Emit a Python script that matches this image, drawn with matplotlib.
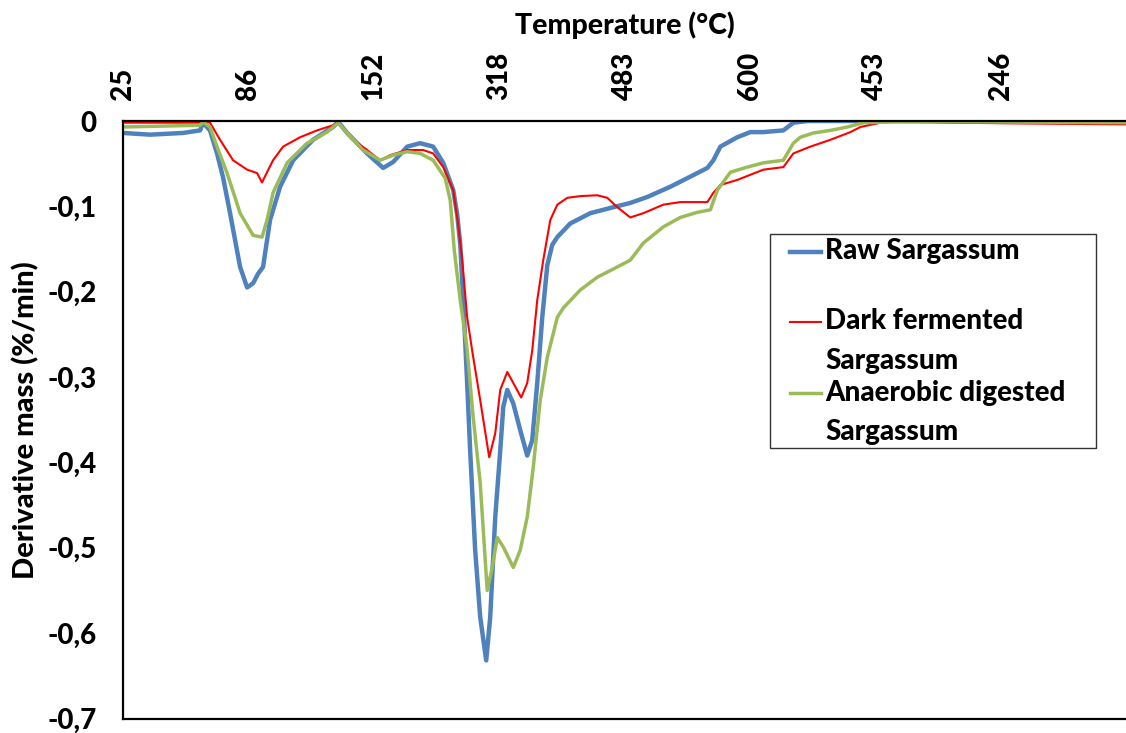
import os
import matplotlib
matplotlib.use("Agg")
import matplotlib.pyplot as plt
from matplotlib import font_manager as fm
from matplotlib.lines import Line2D
from matplotlib.patches import Rectangle

# Temperature read at each labelled point of the run (heating to 600 °C, then cooling)
temp_labels = ["25", "86", "152", "318", "483", "600", "453", "246"]
y_ticks = [0, -0.1, -0.2, -0.3, -0.4, -0.5, -0.6, -0.7]
y_tick_labels = ["0", "-0,1", "-0,2", "-0,3", "-0,4", "-0,5", "-0,6", "-0,7"]

# Position along the run (one unit per labelled temperature) and DTG (%/min)
raw_x = [0, 0.215, 0.479, 0.615, 0.638, 0.694, 0.750, 0.798, 0.854, 0.934, 0.990,
         1.038, 1.077, 1.117, 1.173, 1.253, 1.357, 1.516, 1.676, 1.716, 1.788, 1.947,
         2.075, 2.155, 2.267, 2.370, 2.474, 2.554, 2.634, 2.666, 2.690, 2.714, 2.745,
         2.769, 2.809, 2.849, 2.897, 2.929, 2.969, 3.009, 3.033, 3.065, 3.113, 3.168,
         3.224, 3.264, 3.304, 3.344, 3.384, 3.424, 3.464, 3.568, 3.727, 3.911, 4.046,
         4.182, 4.366, 4.581, 4.661, 4.709, 4.765, 4.900, 5.004, 5.108, 5.267, 5.347,
         5.459, 5.698, 6.201, 6.999, 8.0]
raw_dtg = [-0.014, -0.016, -0.014, -0.011, -0.002, -0.011, -0.038, -0.066, -0.108,
           -0.171, -0.195, -0.190, -0.179, -0.171, -0.116, -0.077, -0.046, -0.022,
           -0.007, -0.001, -0.014, -0.038, -0.055, -0.048, -0.030, -0.026, -0.030,
           -0.049, -0.081, -0.110, -0.145, -0.210, -0.307, -0.386, -0.503, -0.581,
           -0.632, -0.581, -0.464, -0.386, -0.335, -0.315, -0.331, -0.362, -0.392,
           -0.374, -0.307, -0.230, -0.169, -0.145, -0.136, -0.120, -0.108, -0.101,
           -0.096, -0.089, -0.077, -0.061, -0.055, -0.046, -0.030, -0.019, -0.013,
           -0.013, -0.011, -0.002, 0.0, 0.0, 0.0, -0.001, -0.001]

dark_x = [0, 0.615, 0.638, 0.694, 0.774, 0.878, 0.990, 1.069, 1.109, 1.149, 1.197,
          1.277, 1.413, 1.548, 1.676, 1.716, 1.836, 1.947, 2.051, 2.131, 2.267, 2.394,
          2.474, 2.554, 2.634, 2.674, 2.706, 2.745, 2.785, 2.849, 2.921, 2.969, 3.009,
          3.065, 3.113, 3.176, 3.224, 3.264, 3.304, 3.352, 3.408, 3.464, 3.544, 3.647,
          3.783, 3.863, 3.943, 4.046, 4.150, 4.310, 4.445, 4.661, 4.709, 4.765, 4.900,
          5.108, 5.267, 5.347, 5.483, 5.643, 5.802, 5.882, 6.042, 6.177, 6.600, 8.0]
dark_dtg = [-0.002, -0.002, 0.0, -0.002, -0.022, -0.046, -0.057, -0.061, -0.072,
            -0.060, -0.046, -0.030, -0.019, -0.011, -0.005, -0.001, -0.022, -0.034,
            -0.046, -0.040, -0.034, -0.034, -0.038, -0.054, -0.081, -0.122, -0.163,
            -0.230, -0.269, -0.327, -0.394, -0.366, -0.315, -0.294, -0.307, -0.324,
            -0.307, -0.269, -0.210, -0.163, -0.116, -0.098, -0.090, -0.088, -0.087,
            -0.090, -0.101, -0.113, -0.108, -0.098, -0.095, -0.095, -0.084, -0.075,
            -0.069, -0.057, -0.054, -0.038, -0.030, -0.022, -0.013, -0.007, -0.002,
            0.0, -0.002, -0.004]

anaer_x = [0, 0.615, 0.638, 0.694, 0.750, 0.830, 0.934, 1.038, 1.109, 1.149, 1.197,
           1.309, 1.468, 1.628, 1.716, 1.788, 1.915, 2.051, 2.155, 2.267, 2.370, 2.474,
           2.570, 2.610, 2.642, 2.690, 2.745, 2.793, 2.849, 2.905, 2.945, 2.985, 3.033,
           3.113, 3.168, 3.224, 3.272, 3.328, 3.384, 3.464, 3.512, 3.647, 3.783, 3.943,
           4.046, 4.150, 4.310, 4.445, 4.581, 4.685, 4.741, 4.845, 4.980, 5.108, 5.267,
           5.347, 5.403, 5.507, 5.643, 5.778, 5.906, 6.177, 6.840, 8.0]
anaer_dtg = [-0.007, -0.005, -0.001, -0.007, -0.030, -0.061, -0.108, -0.134, -0.136,
             -0.116, -0.084, -0.049, -0.026, -0.013, -0.002, -0.014, -0.034, -0.046,
             -0.040, -0.036, -0.038, -0.046, -0.067, -0.093, -0.151, -0.210, -0.268,
             -0.347, -0.424, -0.550, -0.523, -0.488, -0.499, -0.523, -0.503, -0.464,
             -0.406, -0.327, -0.277, -0.230, -0.219, -0.198, -0.183, -0.171, -0.163,
             -0.143, -0.124, -0.113, -0.107, -0.104, -0.081, -0.060, -0.054, -0.049,
             -0.046, -0.026, -0.019, -0.014, -0.011, -0.007, -0.002, -0.001, -0.001,
             -0.002]

series = [
    (raw_x, raw_dtg, "#4F81BD", 3.2, ["Raw Sargassum"]),
    (dark_x, dark_dtg, "#FF0000", 1.5, ["Dark fermented", "Sargassum"]),
    (anaer_x, anaer_dtg, "#9BBB59", 2.5, ["Anaerobic digested", "Sargassum"]),
]


def heavy_font_file():
    """Locate a heavy face file, preferring the heavier Lato cuts."""
    wanted = ["lato-heavy.ttf", "lato-black.ttf", "lato-bold.ttf",
              "opensans-extrabold.ttf", "opensans-bold.ttf", "notosans-bold.ttf",
              "liberationsans-bold.ttf", "dejavusans-bold.ttf"]
    files = {os.path.basename(f.fname).lower(): f.fname for f in fm.fontManager.ttflist}
    for name in wanted:
        if name in files:
            return files[name]
    return None


HEAVY_FILE = heavy_font_file()


def fp(size):
    if HEAVY_FILE:
        return fm.FontProperties(fname=HEAVY_FILE, size=size)
    return fm.FontProperties(family="DejaVu Sans", weight="bold", size=size)


W, H = 1126, 733
fig = plt.figure(figsize=(W / 100, H / 100), dpi=100)
ax_left, ax_top, ax_bottom = 123, 121, 718.5
ax = fig.add_axes([ax_left / W, 1 - ax_bottom / H, (W - ax_left) / W,
                   (ax_bottom - ax_top) / H])

for xs, ys, color, lw, _ in series:
    ax.plot(xs, ys, color=color, lw=lw, solid_joinstyle='round')

ax.set_xlim(0, 8)
ax.set_ylim(-0.7, 0)
ax.spines['right'].set_visible(False)
for side in ('left', 'top', 'bottom'):
    ax.spines[side].set_linewidth(1.6)
    ax.spines[side].set_color('black')

ax.xaxis.tick_top()
ax.set_xticks(range(len(temp_labels)))
ax.set_xticklabels(temp_labels, rotation=90)
ax.set_yticks(y_ticks)
ax.set_yticklabels(y_tick_labels)
for lab in ax.get_xticklabels() + ax.get_yticklabels():
    lab.set_fontproperties(fp(20))
ax.tick_params(axis='both', length=0)
ax.tick_params(axis='x', pad=15)
ax.tick_params(axis='y', pad=19)

# Axis titles
fig.text((ax_left + W) / 2 / W, 1 - 25 / H, "Temperature (°C)", ha='center',
         va='center', fontproperties=fp(20.5))
fig.text(26 / W, 1 - (ax_top + ax_bottom) / 2 / H, "Derivative mass (%/min)",
         rotation=90, ha='center', va='center', fontproperties=fp(21))

# Legend box with the label wrapped under its line sample
box = Rectangle((770 / W, 1 - 448 / H), (1096 - 770) / W, (448 - 234) / H,
                transform=fig.transFigure, facecolor='white', edgecolor='#333333',
                lw=1.0, zorder=5)
fig.patches.append(box)
handle_rows = [252, 322, 393]
text_rows = [[259], [329, 369], [401, 440]]
for (xs, ys, color, lw, label_lines), hy, rows in zip(series, handle_rows, text_rows):
    fig.lines.append(Line2D([790 / W, 821 / W], [1 - hy / H, 1 - hy / H],
                            transform=fig.transFigure, color=color, lw=lw,
                            zorder=6))
    for line_text, by in zip(label_lines, rows):
        fig.text(825 / W, 1 - by / H, line_text, ha='left', va='baseline',
                 fontproperties=fp(20), zorder=7)

fig.savefig("out.png", dpi=100)
